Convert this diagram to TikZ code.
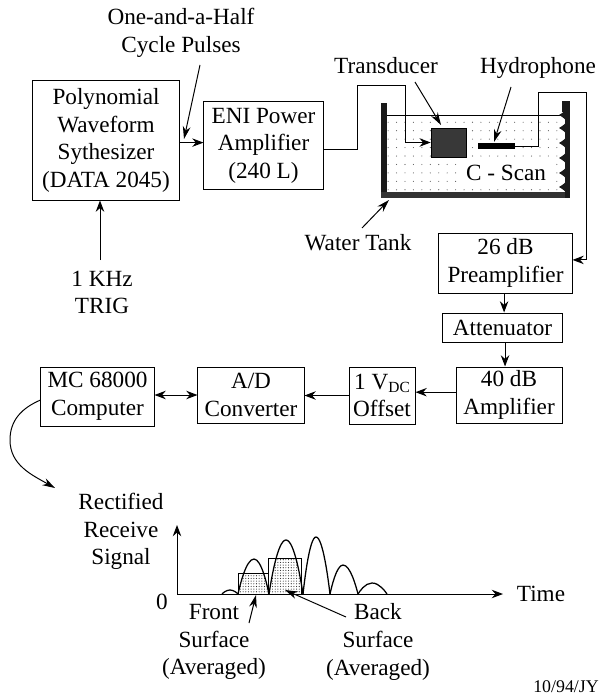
\documentclass[tikz,border=0pt]{standalone}
\usepackage{fontspec}
\setmainfont{Liberation Serif}
\usetikzlibrary{arrows.meta, patterns.meta, calc}
\tikzset{
  blockbox/.style={draw, line width=0.7pt, inner sep=0pt, align=center},
  sigarrow/.style={line width=0.7pt, -{Stealth[length=8pt,width=6pt]}},
  sigline/.style={line width=0.7pt},
  pulseline/.style={line width=0.9pt},
  callout/.style={line width=0.7pt, -{Stealth[length=9pt,width=5.5pt]}},
  textlabel/.style={inner sep=0pt, align=center}
}
\begin{document}
\begin{tikzpicture}[x=0.025cm, y=-0.025cm, font=\fontsize{16.5}{19.6}\selectfont]
    \useasboundingbox (0,0) rectangle (600,696);

    % Blocks
    \node[blockbox, minimum width=3.675cm, minimum height=2.975cm] (synth) at (106,140.5) {Polynomial\\Waveform\\Sythesizer\\(DATA 2045)};
    \node[blockbox, minimum width=2.975cm, minimum height=2.175cm] (eni) at (263.5,145.5) {ENI Power\\Amplifier\\(240 L)};
    \node[blockbox, minimum width=3.325cm, minimum height=1.5cm] (preamp) at (505.5,263) {26 dB\\Preamplifier};
    \node[blockbox, minimum width=2.975cm, minimum height=0.725cm] (atten) at (502.5,327.5) {Attenuator};
    \node[blockbox, minimum width=2.65cm, minimum height=1.4cm] (amp40) at (509,395) {40 dB\\Amplifier};
    \node[blockbox, minimum width=1.65cm, minimum height=1.425cm] (offset) at (382,395.5) {1 V\raisebox{-2.5pt}{\fontsize{11}{11}\selectfont DC}\\Offset};
    \node[blockbox, minimum width=2.65cm, minimum height=1.4cm] (adc) at (251,395) {A/D\\Converter};
    \node[blockbox, minimum width=2.825cm, minimum height=1.475cm] (mc) at (97.5,396.5) {MC 68000\\Computer};

    % Water tank
    \fill[pattern={Dots[radius=0.4pt,distance=6pt]}, pattern color=black!65] (387,115) rectangle (563,192);
    \node[textlabel, fill=white, inner xsep=2pt, inner ysep=3pt] (cscan) at (506,173) {C - Scan};
    \draw[sigline] (387,115) -- (561,115);
    \fill[black!90] (381,103) rectangle (387,198);
    \fill[black!80] (381,192) rectangle (570,198);
    \fill[black!90] (565,101) rectangle (570,198);
    \fill[black!90] (562,101) rectangle (570,112);
    \foreach \ypos in {115,128,143,158,173,187}
        \fill[black!90] (567,\ypos-7) .. controls (564,\ypos-3) .. (559,\ypos) .. controls (564,\ypos+3) .. (567,\ypos+7) -- cycle;
    \node[draw, fill=black!78, minimum width=0.875cm, minimum height=0.725cm, inner sep=0pt] (transducer) at (448.5,142.5) {};
    \node[fill=black, minimum width=0.925cm, minimum height=0.13cm, inner sep=0pt] (hydro) at (496.5,146) {};

    % Labels
    \node[textlabel] (pulseslabel) at (181,33) {One-and-a-Half\\Cycle Pulses};
    \node[textlabel] (triglabel) at (102,292.5) {1 KHz\\TRIG};
    \node[textlabel] (translabel) at (386,66) {Transducer};
    \node[textlabel] (hydrolabel) at (538,68) {Hydrophone};
    \node[textlabel] (tanklabel) at (358,243) {Water Tank};

    % Signal path
    \coordinate (feedup) at (357,85);
    \coordinate (feeddown) at (405,85);
    \coordinate (wireup) at (538,92);
    \coordinate (wireright) at (586,92);
    \draw[sigarrow] ([yshift=-1.5pt]synth.east) -- ([yshift=-1.5pt]synth.east -| eni.west);
    \draw[sigarrow] ([yshift=-3pt]eni.east) -| (feedup) -- (feeddown) |- (transducer.west);
    \draw[sigarrow] (hydro.east) -| (wireup) -- (wireright) |- ([yshift=2.2pt]preamp.east);
    \draw[sigarrow] ([xshift=-1pt]preamp.south) -- ([xshift=-1pt]preamp.south |- atten.north);
    \draw[sigarrow] ([xshift=1.8pt]atten.south) -- ([xshift=1.8pt]atten.south |- amp40.north);
    \draw[sigarrow] ([yshift=2pt]amp40.west) -- ([yshift=2pt]amp40.west -| offset.east);
    \draw[sigarrow] (offset.west) -- (offset.west -| adc.east);
    \draw[line width=0.7pt, {Stealth[length=8pt,width=6pt]}-{Stealth[length=8pt,width=6pt]}] (adc.west -| mc.east) -- (adc.west);

    % Callouts
    \coordinate (pulsestail) at (200,65);
    \coordinate (pulsestip) at (184,139);
    \coordinate (trigtail) at (100,260);
    \coordinate (transtail) at (415,82);
    \coordinate (transtip) at (441,125);
    \coordinate (hydrotail) at (511,87);
    \coordinate (hydrotip) at (494,142);
    \coordinate (tanktail) at (362,228);
    \coordinate (tanktip) at (389,200);
    \draw[callout] (pulsestail) -- (pulsestip);
    \draw[sigarrow] (trigtail) -- (trigtail |- synth.south);
    \draw[callout] (transtail) -- (transtip);
    \draw[callout] (hydrotail) -- (hydrotip);
    \draw[callout] (tanktail) -- (tanktip);

    % Curve down to the plot
    \coordinate (curvetip) at (55,488);
    \draw[callout] ([yshift=-2.5pt]mc.west) .. controls (22,408) and (10,420) .. (10,440) .. controls (10,465) and (32,475) .. (curvetip);

    % Plot axes
    \coordinate (plotorigin) at (177,594);
    \coordinate (plottop) at (177,525);
    \coordinate (plotend) at (503,594);
    \draw[sigarrow] (plotorigin) -- (plottop);
    \draw[sigarrow] (plotorigin) -- (plotend);
    \node[textlabel] (ylabel) at (121,531.5) {Rectified\\Receive\\Signal};
    \node[textlabel] (zerolabel) at (162,602) {0};
    \node[textlabel] (timelabel) at (541,594) {Time};

    % Gates
    \begin{scope}
        \clip (238,594) rectangle (268,573);
        \fill[pattern={Dots[radius=0.4pt,distance=1.9pt]}, pattern color=black!85] (238,594) parabola bend (254,559) (269,594) -- cycle;
    \end{scope}
    \begin{scope}
        \clip (268,594) rectangle (301,558);
        \fill[pattern={Dots[radius=0.4pt,distance=1.9pt]}, pattern color=black!85] (269,594) parabola bend (286,540) (303,594) -- cycle;
    \end{scope}
    \draw[sigline] (238,594) rectangle (268,573);
    \draw[sigline] (268,594) rectangle (301,558);

    % Pulses
    \draw[pulseline] (222,594) parabola bend (230,590) (238,594);
    \draw[pulseline] (238,594) parabola bend (254,559) (269,594);
    \draw[pulseline] (269,594) parabola bend (286,540) (303,594);
    \draw[pulseline] (303,594) parabola bend (316,537) (330,594);
    \draw[pulseline] (330,594) parabola bend (343,565) (358,594);
    \draw[pulseline] (358,594) parabola bend (372,583) (387,594);

    % Plot notes
    \node[textlabel] (frontlabel) at (214,642) {Front\\Surface\\(Averaged)};
    \node[textlabel] (backlabel) at (378,642) {Back\\Surface\\(Averaged)};
    \coordinate (fronttail) at (249,623);
    \coordinate (fronttip) at (256,595);
    \coordinate (backtail) at (346,617);
    \coordinate (backtip) at (285,590);
    \draw[callout] (fronttail) -- (fronttip);
    \draw[callout] (backtail) -- (backtip);
    \node[textlabel, font=\fontsize{12.7}{14}\selectfont] (datelabel) at (566,687) {10/94/JY};
\end{tikzpicture}
\end{document}
